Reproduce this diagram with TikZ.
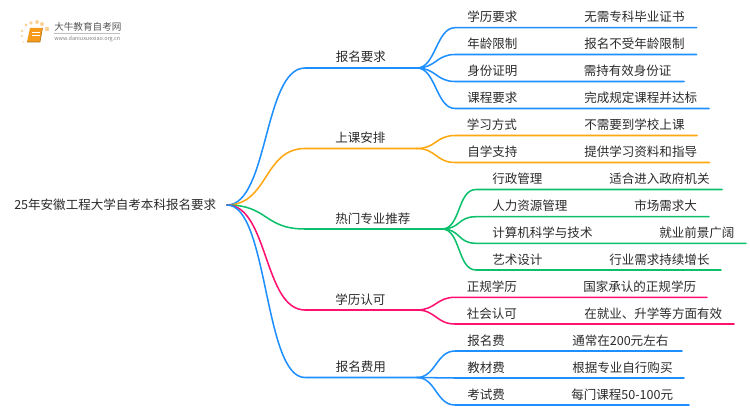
\documentclass[tikz,border=0pt]{standalone}
\usepackage{fontspec}
\setmainfont{Noto Sans CJK SC}
\usepackage{tikz}
\usetikzlibrary{positioning}
\definecolor{wireblue}{HTML}{1E8FFF}
\definecolor{wireorange}{HTML}{FFA70F}
\definecolor{wiregreen}{HTML}{0CC06C}
\definecolor{wirepink}{HTML}{FF0F6E}
\definecolor{inkgray}{HTML}{2A2A2A}
\definecolor{logoorange}{HTML}{F59A1B}

\begin{document}
\begin{tikzpicture}[
    x=0.75pt, y=-0.75pt,
    % Node styles
    rootlabel/.style={anchor=west, inner sep=0pt, text=inkgray, font=\fontsize{9.4pt}{11pt}\selectfont},
    toplabel/.style={rootlabel},
    leaflabel/.style={rootlabel},
    wire/.style={line width=1.15pt, line cap=round},
    fork/.style={out=0, in=180, out distance=31pt, in distance=31pt},
    twig/.style={out=0, in=180, out distance=14pt, in distance=14pt},
    logodot/.style={circle, fill=logoorange!45, inner sep=0pt},
]
\useasboundingbox (0,0) rectangle (750,410);

% Logo
\fill[logodot] (26,25) circle (1.6);
\fill[logodot] (31,23) circle (1.9);
\fill[logodot] (37,22) circle (2);
\fill[logodot] (42,24) circle (2);
\fill[logodot] (47,29) circle (2.3);
\fill[logodot] (22,31) circle (1.3);
\fill[logodot] (22,36) circle (1.1);
\fill[logodot] (23,42) circle (0.9);
\fill[logoorange] (30,28) -- (42.5,28) -- (40,42) -- (27,42) -- cycle;
\draw[white, line width=0.5pt] (32,32) -- (40,32) (31.5,35) -- (39.5,35);
\draw[logoorange!70!black, line width=0.4pt] (27,42) -- (40,42) -- (42.5,28);
\node[anchor=west, inner sep=0pt, text=inkgray!80, font=\fontsize{7.2pt}{9pt}\selectfont] (logotitle) at (54,27) {大牛教育自考网};
\draw[gray!50, line width=0.4pt] (54,33) -- (120,33);
\node[anchor=west, inner sep=0pt, text=gray, font=\fontsize{4.1pt}{5pt}\selectfont] (logourl) at (54,38.7) {www.daniuxuexiao.org.cn};

% Root
\node[rootlabel] (root) at (14,205) {25年安徽工程大学自考本科报名要求};
\coordinate (hub) at (227,205);

% Branch 1: blue
\node[toplabel] (baoming) at (335.5,57) {报名要求};
\coordinate (baomingbend) at (305,68);
\coordinate (baomingfork) at (417,68);
\draw[wire, wireblue] (hub) to[fork] (baomingbend) -- (baomingfork);

\node[leaflabel] (xueli) at (467,17) {学历要求};
\node[leaflabel] (xueliinfo) at (584,17) {无需专科毕业证书};
\coordinate (xuelistart) at (455,27.7);
\coordinate (xueliend) at (696.7,27.7);
\draw[wire, wireblue] (baomingfork) to[twig] (xuelistart) -- (xueliend);

\node[leaflabel] (nianling) at (467,44) {年龄限制};
\node[leaflabel] (nianlinginfo) at (584,44) {报名不受年龄限制};
\coordinate (nianlingstart) at (455,54.5);
\coordinate (nianlingend) at (696.7,54.5);
\draw[wire, wireblue] (baomingfork) to[twig] (nianlingstart) -- (nianlingend);

\node[leaflabel] (shenfen) at (467,71) {身份证明};
\node[leaflabel] (shenfeninfo) at (583.5,71) {需持有效身份证};
\coordinate (shenfenstart) at (455,81.5);
\coordinate (shenfenend) at (684,81.5);
\draw[wire, wireblue] (baomingfork) to[twig] (shenfenstart) -- (shenfenend);

\node[leaflabel] (kecheng) at (467,98) {课程要求};
\node[leaflabel] (kechenginfo) at (584,98) {完成规定课程并达标};
\coordinate (kechengstart) at (455,108.5);
\coordinate (kechengend) at (709,108.5);
\draw[wire, wireblue] (baomingfork) to[twig] (kechengstart) -- (kechengend);

% Branch 2: orange
\node[toplabel] (shangke) at (335,138) {上课安排};
\coordinate (shangkebend) at (305,148.5);
\coordinate (shangkefork) at (417,148.5);
\draw[wire, wireorange] (hub) to[fork] (shangkebend) -- (shangkefork);

\node[leaflabel] (fangshi) at (466.5,125) {学习方式};
\node[leaflabel] (fangshiinfo) at (584,125) {不需要到学校上课};
\coordinate (fangshistart) at (455,135.5);
\coordinate (fangshiend) at (697,135.5);
\draw[wire, wireorange] (shangkefork) to[twig] (fangshistart) -- (fangshiend);

\node[leaflabel] (zixue) at (467,152) {自学支持};
\node[leaflabel] (zixueinfo) at (584,152) {提供学习资料和指导};
\coordinate (zixuestart) at (455,162.5);
\coordinate (zixueend) at (709.5,162.5);
\draw[wire, wireorange] (shangkefork) to[twig] (zixuestart) -- (zixueend);

% Branch 3: green
\node[toplabel] (remen) at (335,219) {热门专业推荐};
\coordinate (remenbend) at (305,229);
\coordinate (remenfork) at (442,229);
\draw[wire, wiregreen] (hub) to[fork] (remenbend) -- (remenfork);

\node[leaflabel] (xingzheng) at (492,179) {行政管理};
\node[leaflabel] (xingzhenginfo) at (609,179) {适合进入政府机关};
\coordinate (xingzhengstart) at (476,189.5);
\coordinate (xingzhengend) at (722,189.5);
\draw[wire, wiregreen] (remenfork) to[twig] (xingzhengstart) -- (xingzhengend);

\node[leaflabel] (renli) at (492,206) {人力资源管理};
\node[leaflabel] (renliinfo) at (634,206) {市场需求大};
\coordinate (renlistart) at (476,216.7);
\coordinate (renliend) at (709,216.7);
\draw[wire, wiregreen] (remenfork) to[twig] (renlistart) -- (renliend);

\node[leaflabel] (jisuanji) at (492,233) {计算机科学与技术};
\node[leaflabel] (jisuanjiinfo) at (659,233) {就业前景广阔};
\coordinate (jisuanjistart) at (476,243.3);
\coordinate (jisuanjiend) at (746,243.3);
\draw[wire, wiregreen] (remenfork) to[twig] (jisuanjistart) -- (jisuanjiend);

\node[leaflabel] (yishu) at (492,259.5) {艺术设计};
\node[leaflabel] (yishuinfo) at (609,259.5) {行业需求持续增长};
\coordinate (yishustart) at (476,270);
\coordinate (yishuend) at (721,270);
\draw[wire, wiregreen] (remenfork) to[twig] (yishustart) -- (yishuend);

% Branch 4: pink
\node[toplabel] (renke) at (335,299.5) {学历认可};
\coordinate (renkebend) at (305,310);
\coordinate (renkefork) at (417,310);
\draw[wire, wirepink] (hub) to[fork] (renkebend) -- (renkefork);

\node[leaflabel] (zhenggui) at (466.5,286.5) {正规学历};
\node[leaflabel] (zhengguiinfo) at (583,286.5) {国家承认的正规学历};
\coordinate (zhengguistart) at (455,297.3);
\coordinate (zhengguiend) at (707,297.3);
\draw[wire, wirepink] (renkefork) to[twig] (zhengguistart) -- (zhengguiend);

\node[leaflabel] (shehui) at (466.5,313.5) {社会认可};
\node[leaflabel] (shehuiinfo) at (584,313.5) {在就业、升学等方面有效};
\coordinate (shehuistart) at (455,324);
\coordinate (shehuiend) at (734,324);
\draw[wire, wirepink] (renkefork) to[twig] (shehuistart) -- (shehuiend);

% Branch 5: blue
\node[toplabel] (feiyong) at (335.5,367) {报名费用};
\coordinate (feiyongbend) at (305,377.5);
\coordinate (feiyongfork) at (417,377.5);
\draw[wire, wireblue] (hub) to[fork] (feiyongbend) -- (feiyongfork);

\node[leaflabel] (baomingfei) at (467,340.5) {报名费};
\node[leaflabel] (baomingfeiinfo) at (572,340.5) {通常在200元左右};
\coordinate (baomingfeistart) at (455,351);
\coordinate (baomingfeiend) at (682,351);
\draw[wire, wireblue] (feiyongfork) to[twig] (baomingfeistart) -- (baomingfeiend);

\node[leaflabel] (jiaocai) at (467,367.5) {教材费};
\node[leaflabel] (jiaocaiinfo) at (572,367.5) {根据专业自行购买};
\coordinate (jiaocaistart) at (455,378);
\coordinate (jiaocaiend) at (684,378);
\draw[wire, wireblue] (feiyongfork) to[twig] (jiaocaistart) -- (jiaocaiend);

\node[leaflabel] (kaoshi) at (467,394.5) {考试费};
\node[leaflabel] (kaoshiinfo) at (571,394.5) {每门课程50-100元};
\coordinate (kaoshistart) at (455,405);
\coordinate (kaoshiend) at (689,405);
\draw[wire, wireblue] (feiyongfork) to[twig] (kaoshistart) -- (kaoshiend);

\end{tikzpicture}
\end{document}
